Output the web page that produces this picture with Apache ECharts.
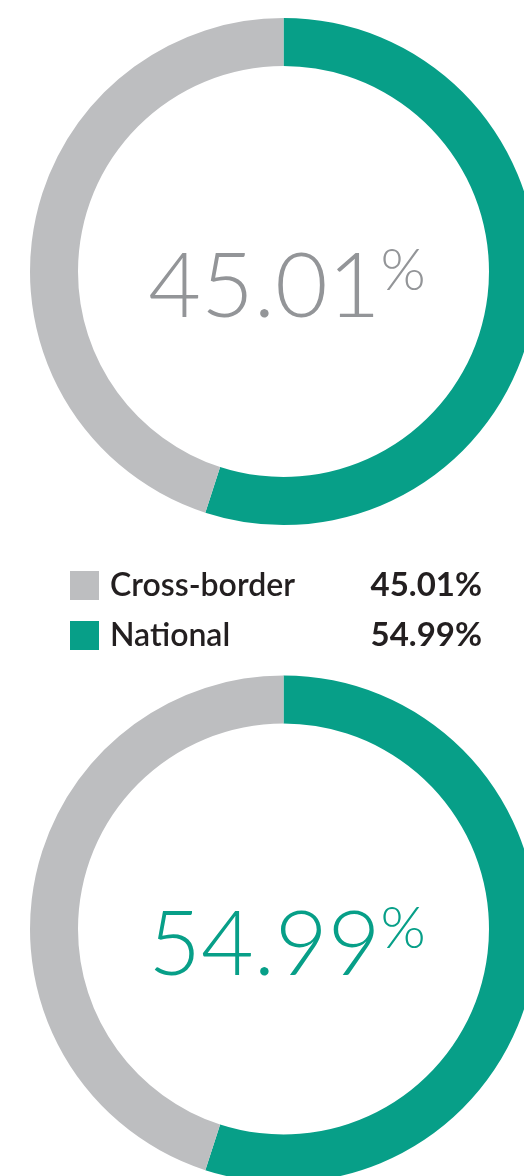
<!DOCTYPE html>
<html>
<head>
<meta charset="utf-8">
<script src="https://cdn.jsdelivr.net/npm/echarts@6/dist/echarts.min.js"></script>
<style>
html,body{margin:0;padding:0;background:#fff;}
#c{width:524px;height:1176px;}
</style>
</head>
<body>
<div id="c"></div>
<script>
const categories = ['National', 'Cross-border'];
const values = [54.99, 45.01];
const colors = ['#079f88', '#bdbec0'];
const legendOrder = ['Cross-border', 'National'];
const centerTexts = ['45.01', '54.99'];
const centerColors = ['#939598', '#079f88'];

const chart = echarts.init(document.getElementById('c'), null, {renderer: 'canvas'});
const pieData = categories.map((c, i) => ({name: c, value: values[i], itemStyle: {color: colors[i]}}));
const centers = [[283.5, 271.5], [283.5, 929]];
const fmt = v => v.toFixed(2) + '%';

const option = {
  animation: false,
  backgroundColor: '#ffffff',
  title: centerTexts.map((t, i) => ({
    text: '{a|' + t + '}{b|%}',
    left: 287,
    textAlign: 'center',
    top: centers[i][1] - 29,
    padding: 0,
    textStyle: {
      rich: {
        a: {fontFamily: 'Lato', fontWeight: 300, fontSize: 91, color: centerColors[i], lineHeight: 91},
        b: {fontFamily: 'Lato', fontWeight: 300, fontSize: 58, color: centerColors[i], verticalAlign: 'top', lineHeight: 58}
      }
    }
  })),
  legend: {
    orient: 'vertical',
    left: 70,
    top: 569,
    padding: 0,
    itemWidth: 29,
    itemHeight: 29,
    itemGap: 17,
    icon: 'rect',
    data: legendOrder,
    formatter: name => {
      const v = values[categories.indexOf(name)];
      return '{n|' + name + '}{v|' + fmt(v) + '}';
    },
    textStyle: {
      rich: {
        n: {fontFamily: 'Lato', fontWeight: 600, fontSize: 32, color: '#231f20', width: 265, padding: [0,0,0,6]},
        v: {fontFamily: 'Lato', fontWeight: 'bold', fontSize: 33, color: '#231f20', width: 107, align: 'right'}
      }
    }
  },
  series: centers.map(c => ({
    type: 'pie',
    center: c,
    radius: [205.5, 253.5],
    startAngle: 90,
    clockwise: true,
    label: {show: false},
    labelLine: {show: false},
    emphasis: {disabled: true},
    silent: true,
    itemStyle: {borderWidth: 0},
    data: pieData
  }))
};
chart.setOption(option);
</script>
</body>
</html>
